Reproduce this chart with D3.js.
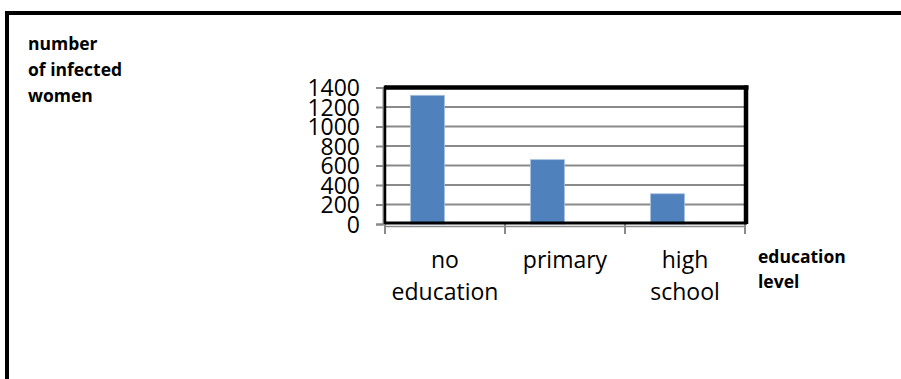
<!DOCTYPE html>
<html>
<head>
<meta charset="utf-8">
<script src="https://cdn.jsdelivr.net/npm/d3@7/dist/d3.min.js"></script>
<style>
  html, body { margin: 0; padding: 0; background: #fff; }
  svg { display: block; }
</style>
</head>
<body>
<svg id="chart" width="901" height="379"></svg>
<script>
// Infected women by education level
const categories = ["no education", "primary", "high school"];
const categoryLines = [["no", "education"], ["primary"], ["high", "school"]];
const infected = [1320, 660, 310];
const yTicks = [0, 200, 400, 600, 800, 1000, 1200, 1400];
const yTitleLines = ["number", "of infected", "women"];
const xTitleLines = ["education", "level"];

const svg = d3.select("#chart");
const W = 901, H = 379;
const plot = { left: 385, right: 746, top: 87.5, bottom: 224 };

// outer frame (top and left edges)
svg.append("line").attr("x1", 5).attr("x2", W).attr("y1", 13).attr("y2", 13)
  .attr("stroke", "#000").attr("stroke-width", 4);
svg.append("line").attr("x1", 7).attr("x2", 7).attr("y1", 11).attr("y2", H)
  .attr("stroke", "#000").attr("stroke-width", 4);

const x = d3.scaleBand().domain(categories).range([plot.left, plot.right - 1]).padding(0);
const y = d3.scaleLinear().domain([0, 1400]).range([plot.bottom, plot.top]);

// gridlines
svg.append("g").selectAll("line").data(yTicks.filter(d => d > 0 && d < 1400)).join("line")
  .attr("x1", plot.left).attr("x2", plot.right)
  .attr("y1", d => y(d)).attr("y2", d => y(d))
  .attr("stroke", "#8a8a8a").attr("stroke-width", 2);

// left axis with ticks
const yAxis = svg.append("g")
  .attr("transform", `translate(${plot.left - 2},0)`)
  .call(d3.axisLeft(y).tickValues(yTicks).tickSize(7).tickFormat(d3.format("d")));
yAxis.select(".domain").attr("stroke", "#8a8a8a").attr("stroke-width", 2);
yAxis.selectAll(".tick line").attr("stroke", "#8a8a8a").attr("stroke-width", 2);
yAxis.selectAll(".tick text")
  .attr("x", 360 - (plot.left - 2)).attr("dy", "0.36em")
  .attr("fill", "#000")
  .style("font-family", "'Open Sans', sans-serif").style("font-size", "23px");

// bottom axis ticks
const xAxis = svg.append("g")
  .attr("transform", `translate(0,${plot.bottom + 2})`)
  .call(d3.axisBottom(x).tickSize(0).tickFormat(""));
xAxis.select(".domain").attr("stroke", "#8a8a8a").attr("stroke-width", 1.5);
const edges = categories.map(c => x(c)).concat([x.range()[1]]);
svg.append("g").selectAll("line").data(edges).join("line")
  .attr("x1", d => d).attr("x2", d => d)
  .attr("y1", plot.bottom).attr("y2", plot.bottom + 10)
  .attr("stroke", "#8a8a8a").attr("stroke-width", 2);

// bars
const barW = 34, barShift = 25.5;
svg.append("g").selectAll("rect").data(infected).join("rect")
  .attr("x", (d, i) => x(categories[i]) + barShift)
  .attr("width", barW)
  .attr("y", d => y(d))
  .attr("height", d => y(0) - y(d))
  .attr("fill", "#4f81bd")
  .attr("stroke", "#a9c1e0").attr("stroke-width", 0.8);

// plot frame
svg.append("line").attr("x1", plot.left).attr("x2", plot.right + 2.5)
  .attr("y1", plot.top).attr("y2", plot.top).attr("stroke", "#000").attr("stroke-width", 4.5);
svg.append("line").attr("x1", plot.right).attr("x2", plot.right)
  .attr("y1", plot.top - 2).attr("y2", plot.bottom).attr("stroke", "#000").attr("stroke-width", 4.5);
svg.append("line").attr("x1", plot.left).attr("x2", plot.left)
  .attr("y1", plot.top - 2).attr("y2", plot.bottom).attr("stroke", "#000").attr("stroke-width", 2.5);
svg.append("line").attr("x1", plot.left).attr("x2", plot.right + 1)
  .attr("y1", plot.bottom - 1).attr("y2", plot.bottom - 1).attr("stroke", "#000").attr("stroke-width", 3);

// category labels
const catText = svg.append("g").selectAll("text").data(categoryLines).join("text")
  .attr("text-anchor", "middle")
  .attr("fill", "#000")
  .style("font-family", "'Open Sans', sans-serif").style("font-size", "23px");
catText.each(function (lines, i) {
  const cx = x(categories[i]) + x.bandwidth() / 2;
  d3.select(this).selectAll("tspan").data(lines).join("tspan")
    .attr("x", cx)
    .attr("y", (d, j) => 268 + j * 31.5)
    .text(d => d);
});

// axis titles
svg.append("text").attr("fill", "#000")
  .style("font-family", "'Open Sans', sans-serif").style("font-size", "17.5px").style("font-weight", "bold")
  .selectAll("tspan").data(yTitleLines).join("tspan")
  .attr("x", 28).attr("y", (d, j) => 50 + j * 26).text(d => d);

svg.append("text").attr("fill", "#000")
  .style("font-family", "'Open Sans', sans-serif").style("font-size", "17.5px").style("font-weight", "bold")
  .selectAll("tspan").data(xTitleLines).join("tspan")
  .attr("x", 758).attr("y", (d, j) => 263 + j * 25).text(d => d);
</script>
</body>
</html>
